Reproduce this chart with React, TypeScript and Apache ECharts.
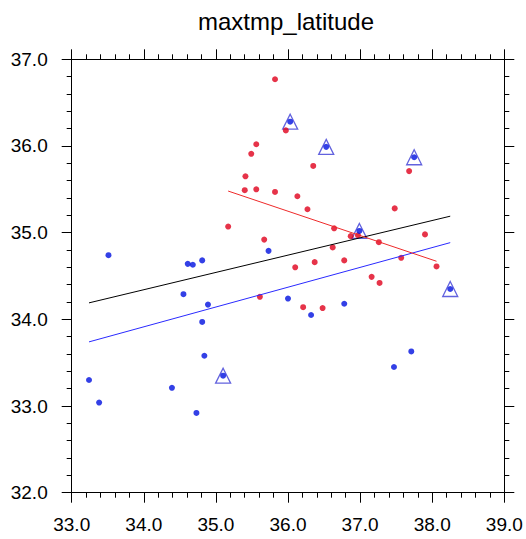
import React, { useEffect, useRef } from "react";
import * as echarts from "echarts";

const titleText = "maxtmp_latitude";

const redX = [35.82, 35.97, 35.56, 35.49, 35.41, 35.40, 35.56, 35.82, 36.13, 35.17, 35.67, 36.10, 36.35, 37.68, 36.27, 37.48, 36.64, 36.87, 36.97, 37.90, 37.26, 36.62, 37.57, 38.06, 36.37, 36.78, 37.16, 37.27, 36.21, 36.48, 35.61];
const redY = [36.77, 36.18, 36.02, 35.91, 35.65, 35.49, 35.50, 35.47, 35.42, 35.07, 34.92, 34.60, 35.77, 35.71, 35.27, 35.28, 35.05, 34.96, 34.97, 34.98, 34.89, 34.83, 34.71, 34.61, 34.66, 34.68, 34.49, 34.42, 34.14, 34.13, 34.26];

const blueX = [36.03, 36.53, 37.75, 36.99, 38.25, 35.10, 33.51, 34.61, 34.68, 34.81, 35.73, 34.55, 34.89, 34.81, 36.00, 34.84, 33.24, 33.38, 34.39, 34.73, 36.32, 36.78, 37.71, 37.47];
const blueY = [36.28, 35.99, 35.87, 35.02, 34.35, 33.35, 34.74, 34.64, 34.63, 34.68, 34.79, 34.29, 34.17, 33.97, 34.24, 33.58, 33.30, 33.04, 33.21, 32.92, 34.05, 34.18, 33.63, 33.45];

// indices of blue points marked with a triangle
const markedIdx = [0, 1, 2, 3, 4, 5];

const blackLineX = [33.24, 38.25];
const blackLineY = [34.19, 35.19];
const blueLineX = [33.24, 38.25];
const blueLineY = [33.74, 34.885];
const redLineX = [35.17, 38.06];
const redLineY = [35.48, 34.67];

const xTicks = [33, 34, 35, 36, 37, 38, 39];
const yTicks = [32, 33, 34, 35, 36, 37];

const zip = (xs: number[], ys: number[]) => xs.map((x, i) => [x, ys[i]]);

export default function App() {
  const ref = useRef<HTMLDivElement>(null);
  useEffect(() => {
    if (!ref.current) return;
    const chart = echarts.init(ref.current, null, { renderer: "svg" });
    const axisCommon = {
      type: "value" as const,
      interval: 1,
      axisLine: { show: true, onZero: false, lineStyle: { color: "#000", width: 1 } },
      axisTick: { show: true, inside: false, length: 10, lineStyle: { color: "#000", width: 1 } },
      minorTick: { show: true, splitNumber: 5, length: 5, lineStyle: { color: "#000", width: 1 } },
      splitLine: { show: false },
      minorSplitLine: { show: false },
    };
    const labelStyle = {
      fontFamily: "Liberation Sans, Arial, sans-serif",
      fontSize: 19,
      color: "#000",
      formatter: (v: number) => v.toFixed(1),
    };
    chart.setOption({
      animation: false,
      backgroundColor: "#fff",
      graphic: [
        {
          type: "text",
          x: 286,
          y: 21,
          style: {
            text: titleText,
            fontFamily: "Liberation Sans, Arial, sans-serif",
            fontSize: 24,
            fill: "#000",
            textAlign: "center",
            textVerticalAlign: "middle",
          },
        },
      ],
      grid: { left: 71.7, right: 21.7, top: 59.3, bottom: 46.3, containLabel: false },
      xAxis: [
        {
          ...axisCommon,
          position: "bottom",
          min: xTicks[0],
          max: xTicks[xTicks.length - 1],
          axisLabel: { ...labelStyle, margin: 22 },
        },
        {
          ...axisCommon,
          position: "top",
          min: xTicks[0],
          max: xTicks[xTicks.length - 1],
          axisLabel: { show: false },
        },
      ],
      yAxis: [
        {
          ...axisCommon,
          position: "left",
          min: yTicks[0],
          max: yTicks[yTicks.length - 1],
          axisLabel: { ...labelStyle, margin: 24 },
        },
        {
          ...axisCommon,
          position: "right",
          min: yTicks[0],
          max: yTicks[yTicks.length - 1],
          axisLabel: { show: false },
        },
      ],
      series: [
        {
          type: "line",
          data: zip(blackLineX, blackLineY),
          showSymbol: false,
          lineStyle: { color: "#000", width: 1 },
          silent: true,
        },
        {
          type: "line",
          data: zip(blueLineX, blueLineY),
          showSymbol: false,
          lineStyle: { color: "#2a2aff", width: 1 },
          silent: true,
        },
        {
          type: "line",
          data: zip(redLineX, redLineY),
          showSymbol: false,
          lineStyle: { color: "#ee2a2a", width: 1 },
          silent: true,
        },
        {
          type: "scatter",
          data: markedIdx.map((i) => [blueX[i], blueY[i]]),
          symbol: "triangle",
          symbolSize: 15,
          itemStyle: { color: "rgba(0,0,0,0)", borderColor: "#3b3bd6", borderWidth: 1.3 },
        },
        {
          type: "scatter",
          data: zip(redX, redY),
          symbol: "circle",
          symbolSize: 6,
          itemStyle: { color: "#e0001c" },
        },
        {
          type: "scatter",
          data: zip(blueX, blueY),
          symbol: "circle",
          symbolSize: 6,
          itemStyle: { color: "#0010e0" },
        },
      ],
    });
    return () => chart.dispose();
  }, []);
  return (
    <div
      ref={ref}
      style={{ position: "fixed", left: 0, top: 0, width: 526, height: 539 }}
    />
  );
}
